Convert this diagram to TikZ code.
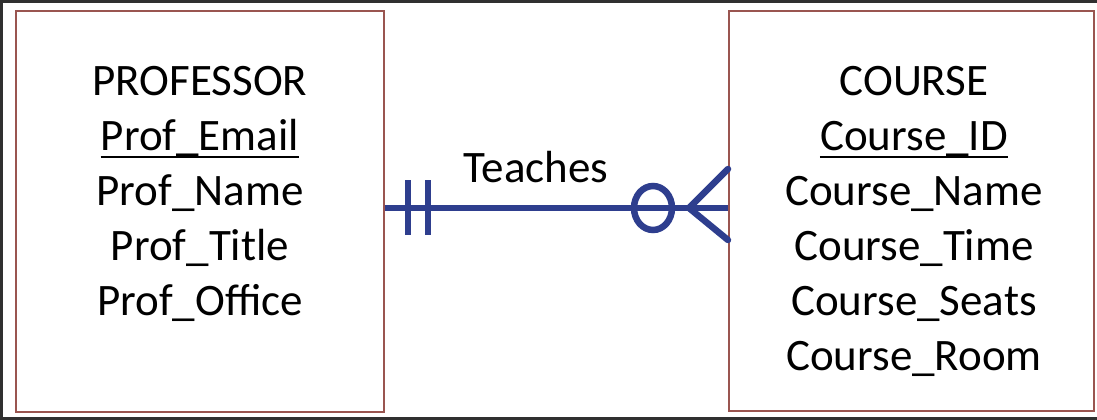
\documentclass[tikz,border=0pt]{standalone}
\usepackage{fontspec}
\setmainfont{Carlito}
\definecolor{boxred}{HTML}{9A5550}
\definecolor{relblue}{HTML}{2E3E8E}
\definecolor{frame}{HTML}{303030}
\begin{document}
\begin{tikzpicture}[x=1pt,y=-1pt,
  entity/.style={draw=boxred,line width=2pt,fill=white},
  attr/.style={font=\fontsize{45}{55}\selectfont,anchor=base,inner sep=0pt},
  rel/.style={draw=relblue,line width=6.5pt},
  keyline/.style={line width=2.5pt}]
\useasboundingbox (0,0) rectangle (1097,420);
\fill[white] (0,0) rectangle (1097,420);
% outer frame
\draw[frame,line width=3pt] (1097,1.5) -- (1.5,1.5) -- (1.5,418.5) -- (1097,418.5);
% entities
\node[entity,minimum width=368pt,minimum height=401pt,anchor=north west] (prof) at (15,10) {};
\node[entity,minimum width=365pt,minimum height=400pt,anchor=north west] (course) at (728,10) {};
% professor attributes
\node[attr] (p0) at (200,95) {PROFESSOR};
\node[attr] (p1) at (200,150) {Prof\_Email};
\draw[keyline] ([yshift=-7pt]p1.base west) -- ([yshift=-7pt]p1.base east);
\node[attr] (p2) at (200,205) {Prof\_Name};
\node[attr] (p3) at (200,260) {Prof\_Title};
\node[attr] (p4) at (200,315) {Prof\_Office};
% course attributes
\node[attr] (c0) at (914,95) {COURSE};
\node[attr] (c1) at (914,150) {Course\_ID};
\draw[keyline] ([yshift=-7pt]c1.base west) -- ([yshift=-7pt]c1.base east);
\node[attr] (c2) at (914,205) {Course\_Name};
\node[attr] (c3) at (914,260) {Course\_Time};
\node[attr] (c4) at (914,315) {Course\_Seats};
\node[attr] (c5) at (914,370) {Course\_Room};
% relationship
\coordinate (pa) at (prof.east |- 0,208);
\coordinate (ca) at (course.west |- 0,208);
\draw[rel] (pa) -- (ca);
\node[attr] (teaches) at (536,182) {Teaches};
% one-and-only-one
\draw[rel] (408,180) -- (408,235);
\draw[rel] (428,180) -- (428,235);
% zero-or-many
\draw[rel] (653,208) ellipse [x radius=19pt,y radius=22pt];
\coordinate (foot) at (689,208);
\draw[rel,line cap=round] (728,169) -- (foot) -- (728,240);
\end{tikzpicture}
\end{document}
